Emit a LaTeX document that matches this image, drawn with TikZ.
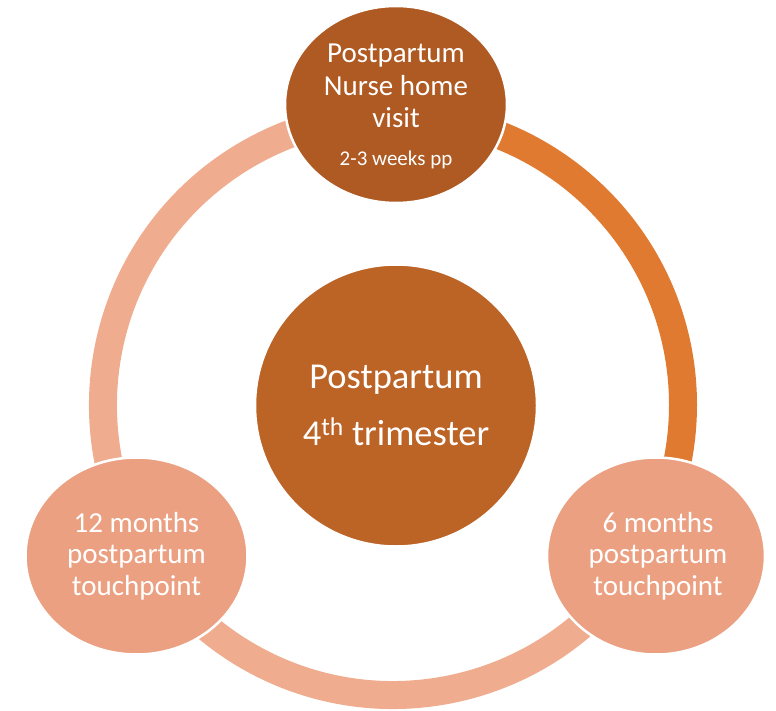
\documentclass[tikz,border=0pt]{standalone}
\usepackage{fontspec}
\setmainfont{Carlito}
\usetikzlibrary{shapes.geometric,calc}
\definecolor{topfill}{HTML}{AE5A22}
\definecolor{midfill}{HTML}{BC6326}
\definecolor{arcdark}{HTML}{E07A30}
\definecolor{botfill}{HTML}{EBA082}
\definecolor{arclight}{HTML}{F0AC8E}
\begin{document}
\begin{tikzpicture}[x=1pt,y=-1pt,
  ringarc/.style={line width=28pt,line cap=butt},
  bubble/.style={ellipse,draw=white,line width=2.5pt,inner sep=0pt,minimum width=222pt,minimum height=197pt},
  txt/.style={text=white,anchor=base,inner sep=0pt,font=\fontsize{29}{32}\selectfont},
  bigtxt/.style={text=white,anchor=base,inner sep=0pt,font=\fontsize{36.5}{44}\selectfont},
  smalltxt/.style={text=white,anchor=base,inner sep=0pt,font=\fontsize{21}{25}\selectfont}]
\useasboundingbox (0,0) rectangle (776,711);
\coordinate (ringc) at (393,405);
% ring arcs
\draw[ringarc,arcdark] ($(ringc)+(90:290pt)$) arc[start angle=90,end angle=-30,radius=290pt];
\draw[ringarc,arclight] ($(ringc)+(-30:290pt)$) arc[start angle=-30,end angle=-150,radius=290pt];
\draw[ringarc,arclight] ($(ringc)+(210:290pt)$) arc[start angle=210,end angle=90,radius=290pt];
% nodes
\node[bubble,fill=topfill] (top) at (396,104.5) {};
\node[bubble,fill=botfill,minimum width=218pt] (br) at (656,556) {};
\node[bubble,fill=botfill] (bl) at (136.5,556) {};
\node[circle,draw=white,line width=2.5pt,fill=midfill,minimum size=282pt,inner sep=0pt] (mid) at (396,405.5) {};
% texts
\node[txt] (t1) at (396,63) {Postpartum};
\node[txt] (t2) at (396,95.5) {Nurse home};
\node[txt] (t3) at (396,128) {visit};
\node[smalltxt] (t4) at (396,166) {2-3 weeks pp};
\node[bigtxt] (m1) at (396,388) {Postpartum};
\node[bigtxt] (m2) at (396,445) {4\textsuperscript{th} trimester};
\node[txt] (r1) at (658,532) {6 months};
\node[txt] (r2) at (658,563.5) {postpartum};
\node[txt] (r3) at (658,595) {touchpoint};
\node[txt] (l1) at (136.5,532) {12 months};
\node[txt] (l2) at (136.5,563.5) {postpartum};
\node[txt] (l3) at (136.5,595) {touchpoint};
\end{tikzpicture}
\end{document}
